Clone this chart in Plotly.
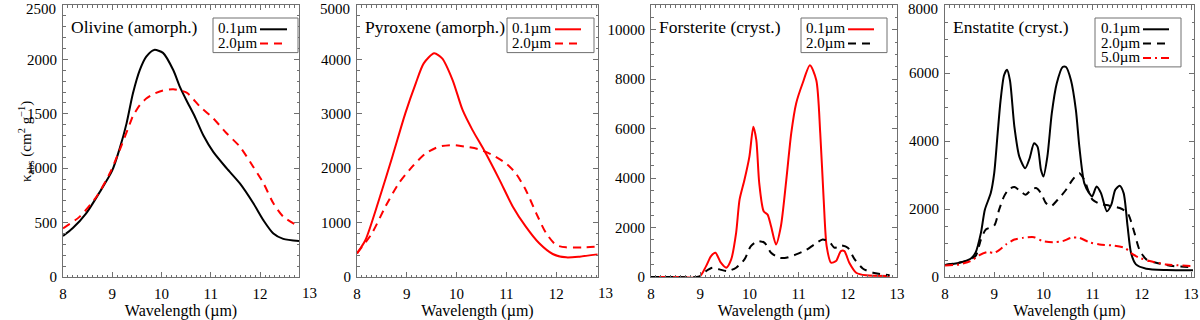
import plotly.graph_objects as go
from plotly.subplots import make_subplots

# ---- data (wavelength in micron, kappa in cm^2/g) ----
OLI_X_01 = [8.0, 8.2, 8.47, 8.75, 9.0, 9.15, 9.29, 9.42, 9.56, 9.69, 9.85, 10.03, 10.24, 10.37,
            10.51, 10.67, 10.85, 11.05, 11.32, 11.59, 11.86, 12.07, 12.27, 12.47, 12.79]
OLI_Y_01 = [377, 450, 585, 784, 980, 1180, 1412, 1688, 1903, 2025, 2087, 2060, 1900, 1750,
            1620, 1480, 1300, 1150, 1000, 860, 680, 520, 400, 350, 330]
OLI_X_20 = [8.0, 8.34, 8.68, 8.95, 9.15, 9.36, 9.42, 9.56, 9.69, 9.83, 10.03, 10.24, 10.51,
            10.78, 11.05, 11.32, 11.59, 11.86, 12.07, 12.27, 12.47, 12.79]
OLI_Y_20 = [447, 555, 738, 953, 1167, 1412, 1480, 1580, 1640, 1680, 1715, 1725, 1694,
            1566, 1458, 1321, 1198, 1014, 861, 677, 555, 463]

PYR_X_01 = [8.0, 8.17, 8.44, 8.71, 8.97, 9.18, 9.34, 9.55, 9.71, 9.92, 10.12, 10.32, 10.55,
            10.86, 11.13, 11.39, 11.66, 11.93, 12.2, 12.47, 12.83]
PYR_Y_01 = [435, 680, 1415, 2212, 3008, 3560, 3927, 4111, 4019, 3621, 3070, 2700, 2334,
            1790, 1293, 925, 619, 423, 361, 374, 416]
PYR_X_20 = [8.0, 8.30, 8.57, 8.84, 9.11, 9.38, 9.65, 9.92, 10.18, 10.45, 10.72, 10.99, 11.19,
            11.39, 11.60, 11.80, 12.0, 12.2, 12.54, 12.83]
PYR_Y_20 = [435, 803, 1293, 1722, 2028, 2273, 2396, 2426, 2396, 2347, 2243, 2089, 1905,
            1599, 1170, 803, 588, 545, 545, 558]

FOR_X_01 = [8.0, 8.5, 8.98, 9.12, 9.22, 9.31, 9.42, 9.53, 9.63, 9.73, 9.80, 9.90, 10.0, 10.08,
            10.14, 10.20, 10.29, 10.37, 10.44, 10.54, 10.64, 10.75, 10.85, 10.95, 11.08, 11.23,
            11.36, 11.44, 11.51, 11.57, 11.66, 11.76, 11.86, 11.93, 12.03, 12.17, 12.37, 12.85]
FOR_Y_01 = [0, 0, 0, 440, 845, 980, 577, 375, 711, 1785, 3127, 3932, 4871, 6079,
            5542, 3798, 2657, 2523, 2053, 1315, 2053, 3932, 5811, 7019, 7824, 8562,
            7958, 5811, 3127, 1248, 577, 644, 1047, 1047, 577, 174, 67, 40]
FOR_X_20 = [8.0, 8.5, 8.98, 9.12, 9.25, 9.39, 9.56, 9.73, 9.90, 10.03, 10.17, 10.31, 10.44,
            10.61, 10.75, 10.95, 11.15, 11.32, 11.49, 11.63, 11.73, 11.86, 12.0, 12.14, 12.31,
            12.51, 12.85]
FOR_Y_20 = [0, 0, 20, 240, 375, 308, 240, 375, 711, 1248, 1449, 1382, 980,
            778, 778, 913, 1087, 1315, 1516, 1409, 1181, 1275, 1181, 711, 335,
            174, 67]

ENS_X_01 = [8.0, 8.29, 8.52, 8.62, 8.73, 8.81, 8.93, 9.0, 9.07, 9.13, 9.20, 9.26, 9.32, 9.41,
            9.51, 9.63, 9.72, 9.81, 9.88, 9.95, 10.0, 10.08, 10.17, 10.27, 10.39, 10.46, 10.56,
            10.66, 10.73, 10.83, 10.93, 10.99, 11.08, 11.17, 11.29, 11.38, 11.46, 11.55, 11.63,
            11.71, 11.78, 11.88, 12.09, 12.50, 13.04]
ENS_Y_01 = [351, 420, 537, 712, 1298, 1980, 2468, 3054, 4224, 5200, 5932, 6098, 5785, 4419,
            3541, 3200, 3493, 3932, 3834, 3151, 2956, 3541, 4810, 5688, 6176, 6176, 5785,
            4907, 3834, 2761, 2468, 2371, 2663, 2468, 1932, 2127, 2566, 2683, 2468,
            1493, 712, 371, 244, 205, 195]
ENS_X_20 = [8.0, 8.42, 8.62, 8.73, 8.83, 9.0, 9.10, 9.20, 9.30, 9.41, 9.54, 9.64, 9.75, 9.85,
            9.95, 10.05, 10.15, 10.29, 10.46, 10.59, 10.73, 10.83, 10.93, 11.0, 11.14, 11.34,
            11.55, 11.71, 11.85, 11.95, 12.09, 12.29, 12.63, 13.04]
ENS_Y_20 = [351, 468, 615, 1102, 1395, 1512, 1980, 2371, 2585, 2644, 2517, 2419, 2566, 2615,
            2468, 2176, 2078, 2273, 2566, 2858, 3054, 2858, 2468, 2273, 2156, 2098,
            2029, 1883, 1298, 810, 517, 420, 322, 293]
ENS_X_50 = [8.0, 8.29, 8.52, 8.69, 8.86, 9.0, 9.10, 9.24, 9.41, 9.58, 9.81, 9.98, 10.19,
            10.39, 10.56, 10.73, 10.93, 11.14, 11.41, 11.65, 11.82, 11.95, 12.16, 12.50, 13.04]
ENS_Y_50 = [341, 371, 468, 634, 732, 712, 790, 956, 1102, 1151, 1171, 1054, 1024,
            1054, 1151, 1151, 1024, 956, 927, 859, 663, 566, 468, 371, 322]

PANEL_TITLES = ["Olivine (amorph.)", "Pyroxene (amorph.)", "Forsterite (cryst.)", "Enstatite (cryst.)"]
X_TICKS = [8, 9, 10, 11, 12, 13]

RED = "#ff0000"
BLACK = "#000000"
AXIS_GRAY = "#707070"
DASH = "8px,6px"
DASHDOT = "8px,4px,2px,4px"
FONT = "Liberation Serif"
W, H = 1200, 320

# panel layout in pixels: (left, right) of plot box, x range, y range, major/minor y ticks
PANELS = [
    dict(box=(63, 299), xr=[8, 12.79], yr=[0, 2500], dy=500, mdy=100),
    dict(box=(357, 598), xr=[8, 12.84], yr=[0, 5000], dy=1000, mdy=200),
    dict(box=(651, 897), xr=[8, 13.0], yr=[0, 11000], dy=2000, mdy=500),
    dict(box=(945, 1194), xr=[8, 13.06], yr=[0, 8000], dy=2000, mdy=500),
]
BOX_TOP, BOX_BOTTOM = 5, 277

SERIES = [
    [(OLI_X_01, OLI_Y_01, "0.1µm", BLACK, "solid"), (OLI_X_20, OLI_Y_20, "2.0µm", RED, DASH)],
    [(PYR_X_01, PYR_Y_01, "0.1µm", RED, "solid"), (PYR_X_20, PYR_Y_20, "2.0µm", RED, DASH)],
    [(FOR_X_01, FOR_Y_01, "0.1µm", RED, "solid"), (FOR_X_20, FOR_Y_20, "2.0µm", BLACK, DASH)],
    [(ENS_X_01, ENS_Y_01, "0.1µm", BLACK, "solid"), (ENS_X_20, ENS_Y_20, "2.0µm", BLACK, DASH),
     (ENS_X_50, ENS_Y_50, "5.0µm", RED, DASHDOT)],
]

# legend boxes: (box left, box right, text left, line start, line end)
LEGENDS = [
    (213, 298, 216, 260, 287),
    (507, 594, 510, 555, 581),
    (801, 887, 804, 848, 874),
    (1095, 1181, 1099, 1143, 1169),
]


def px(x):
    return x / W


def py(y):
    return 1 - y / H


fig = make_subplots(rows=1, cols=4)

for i, (panel, series) in enumerate(zip(PANELS, SERIES), start=1):
    for xs, ys, name, color, dash in series:
        fig.add_trace(
            go.Scatter(x=xs, y=ys, mode="lines", name=name, showlegend=False,
                       line=dict(color=color, width=2, dash=dash, shape="spline", smoothing=0.7)),
            row=1, col=i
        )

    axis_common = dict(
        showline=True, linecolor=AXIS_GRAY, linewidth=1, mirror="ticks",
        ticks="inside", ticklen=5, tickcolor=AXIS_GRAY, showgrid=False, zeroline=False,
        tickfont=dict(family=FONT, size=15, color="black"), automargin=False,
        ticklabeloverflow="allow",
    )
    left, right = panel["box"]
    fig.update_xaxes(
        domain=[px(left), px(right)], range=panel["xr"], tickvals=X_TICKS,
        minor=dict(dtick=0.1, ticks="inside", ticklen=2.5, tickcolor=AXIS_GRAY),
        title=dict(text="Wavelength (µm)", font=dict(family=FONT, size=16, color="black"), standoff=0),
        ticklabelstandoff=3,
        row=1, col=i, **axis_common
    )

    # the label of a tick sitting on the top edge is pulled down inside the page, as in the original
    y0, y1 = panel["yr"]
    y_ticks = list(range(y0, y1 + 1, panel["dy"]))
    top_label = None
    if y_ticks[-1] == y1:
        top_label = y_ticks[-1]
    fig.update_yaxes(
        domain=[py(BOX_BOTTOM), py(BOX_TOP)], range=panel["yr"],
        tickvals=y_ticks, ticktext=["" if v == top_label else str(v) for v in y_ticks],
        minor=dict(dtick=panel["mdy"], ticks="inside", ticklen=2.5, tickcolor=AXIS_GRAY),
        ticklabelstandoff=2,
        row=1, col=i, **axis_common
    )
    if top_label is not None:
        fig.add_annotation(
            x=px(left - 5), y=py(9), xref="paper", yref="paper", xanchor="right", yanchor="middle",
            text=str(top_label), showarrow=False, font=dict(family=FONT, size=15, color="black")
        )

    # panel title
    fig.add_annotation(
        x=px(left + 6), y=py(27), xref="paper", yref="paper", xanchor="left", yanchor="middle",
        text=PANEL_TITLES[i - 1], showarrow=False, font=dict(family=FONT, size=17.5, color="black")
    )

    # "13" tick label drawn past the cut-off right edge of the first two panels
    x0, x1 = panel["xr"]
    if x1 < 12.95:
        x13 = left + (13 - x0) * (right - left) / (x1 - x0)
        fig.add_annotation(
            x=px(x13), y=py(BOX_BOTTOM), xref="paper", yref="paper",
            xanchor="center", yanchor="top", yshift=-6, text="13", showarrow=False,
            font=dict(family=FONT, size=15, color="black")
        )

    # legend drawn by hand: label on the left, line sample on the right
    bl, br, tl, l0, l1 = LEGENDS[i - 1]
    n = len(series)
    fig.add_shape(type="rect", xref="paper", yref="paper",
                  x0=px(bl), x1=px(br), y0=py(18), y1=py(18 + 14.3 * n + 6),
                  line=dict(color=AXIS_GRAY, width=1), fillcolor="white")
    for k, (_, _, name, color, dash) in enumerate(series):
        yc = 28.3 + 14.3 * k
        fig.add_annotation(
            x=px(tl), y=py(yc), xref="paper", yref="paper", xanchor="left", yanchor="middle",
            text=name, showarrow=False, font=dict(family=FONT, size=15, color="black")
        )
        fig.add_shape(type="line", xref="paper", yref="paper",
                      x0=px(l0), x1=px(l1), y0=py(yc + 1), y1=py(yc + 1),
                      line=dict(color=color, width=2, dash=dash))

# y-axis title for the first panel
fig.add_annotation(
    x=px(14), y=py(142), xref="paper", yref="paper", textangle=-90,
    text="κ<sub>abs</sub> (cm<sup>2</sup> g<sup>−1</sup>)", showarrow=False,
    font=dict(family=FONT, size=15, color="black")
)

fig.update_layout(
    width=W, height=H,
    margin=dict(l=0, r=0, t=0, b=0),
    paper_bgcolor="white", plot_bgcolor="white",
    font=dict(family=FONT, color="black"),
)

# drop the browser's default body margin so the figure sits at the page corner
fig.write_html("out.html", config={"displayModeBar": False},
               post_script="document.body.style.margin='0';")
